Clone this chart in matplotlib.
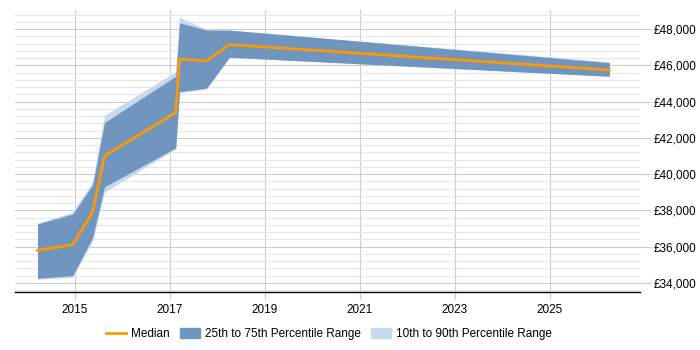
import matplotlib
matplotlib.use("Agg")
import matplotlib.pyplot as plt
from matplotlib.ticker import FuncFormatter, MultipleLocator
from matplotlib.patches import Patch
from matplotlib.lines import Line2D

years = [2014.22, 2014.96, 2015.38, 2015.63, 2017.13, 2017.21, 2017.78, 2018.26, 2026.26]
median = [35800, 36100, 37900, 41000, 43400, 46350, 46250, 47150, 45750]
p25 = [34250, 34400, 36500, 39300, 41450, 44550, 44750, 46450, 45400]
p75 = [37250, 37800, 39400, 42850, 45400, 48350, 47950, 47950, 46150]
p10 = [34200, 34300, 36300, 39000, 41400, 44500, 44700, 46450, 45400]
p90 = [37300, 37900, 39600, 43250, 45650, 48650, 48000, 47950, 46200]
xticks = [2015, 2017, 2019, 2021, 2023, 2025]

plt.rcParams['font.family'] = ['Liberation Sans', 'DejaVu Sans']
fig = plt.figure(figsize=(7, 3.5), dpi=100)
ax = fig.add_axes([0.021, 0.166, 0.893, 0.805])

ax.fill_between(years, p10, p90, color='#c6d9ee', lw=0, zorder=2)
ax.fill_between(years, p25, p75, color='#7096c0', lw=0, zorder=3)
ax.plot(years, median, color='#ff9900', lw=2, zorder=4)

ax.set_xlim(2013.74, 2026.9)
ax.set_ylim(33500, 49050)
ax.set_xticks(xticks)
ax.set_xticklabels([str(x) for x in xticks])
ax.yaxis.set_major_locator(MultipleLocator(2000))
ax.yaxis.set_minor_locator(MultipleLocator(400))
ax.yaxis.tick_right()
ax.yaxis.set_major_formatter(FuncFormatter(lambda v, p: f"£{int(v):,}"))
ax.grid(axis='y', which='major', color='#cccccc', lw=0.8, zorder=0)
ax.grid(axis='y', which='minor', color='#e6e6e6', lw=0.8, zorder=0)
ax.grid(axis='x', which='major', color='#cccccc', lw=0.8, zorder=0)
for s in ['top', 'left', 'right']:
    ax.spines[s].set_visible(False)
ax.spines['bottom'].set_color('black')
ax.spines['bottom'].set_linewidth(1)
ax.tick_params(axis='y', which='major', length=8, color='#cccccc', labelsize=8.5, pad=2)
ax.tick_params(axis='y', which='minor', length=0)
ax.tick_params(axis='x', length=5, color='#cccccc', labelsize=8.5)

handles = [Line2D([], [], color='#ff9900', lw=2),
           Patch(color='#7096c0'), Patch(color='#c6d9ee')]
labels = ['Median', '25th to 75th Percentile Range', '10th to 90th Percentile Range']
fig.legend(handles, labels, loc='center', bbox_to_anchor=(0.47, 0.045), ncol=3,
           frameon=False, fontsize=8.5, handlelength=1.7, handleheight=0.9,
           handletextpad=0.45, columnspacing=0.85)
fig.savefig('out.png', dpi=100)
